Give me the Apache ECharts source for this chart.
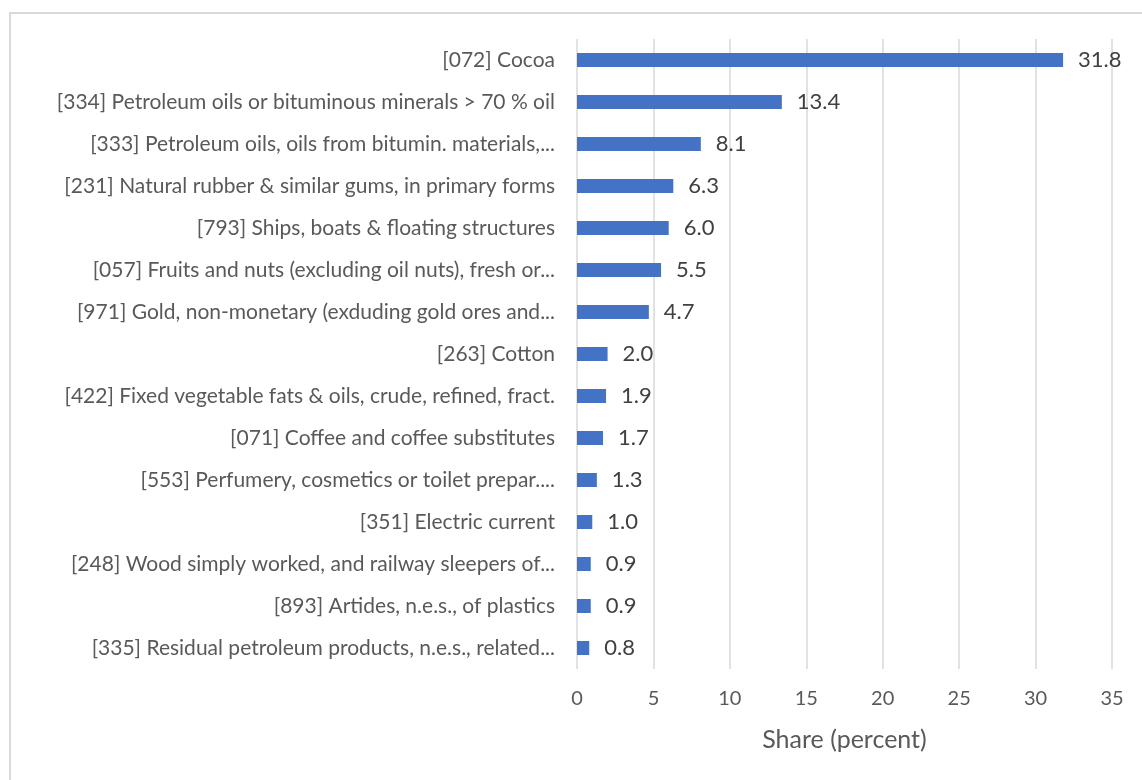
<!DOCTYPE html>
<html>
<head>
<meta charset="utf-8">
<script src="https://cdn.jsdelivr.net/npm/echarts@6/dist/echarts.min.js"></script>
<style>
  html, body { margin: 0; padding: 0; background: #fff; }
  #chart { width: 1142px; height: 780px; }
</style>
</head>
<body>
<div id="chart"></div>
<script>
// Product groups, top to bottom
const categories = [
  '[072] Cocoa',
  '[334] Petroleum oils or bituminous minerals > 70 % oil',
  '[333] Petroleum oils, oils from bitumin. materials,...',
  '[231] Natural rubber & similar gums, in primary forms',
  '[793] Ships, boats & floating structures',
  '[057] Fruits and nuts (excluding oil nuts), fresh or...',
  '[971] Gold, non-monetary (exduding gold ores and...',
  '[263] Cotton',
  '[422] Fixed vegetable fats & oils, crude, refined, fract.',
  '[071] Coffee and coffee substitutes',
  '[553] Perfumery, cosmetics or toilet prepar....',
  '[351] Electric current',
  '[248] Wood simply worked, and railway sleepers of...',
  '[893] Artides, n.e.s., of plastics',
  '[335] Residual petroleum products, n.e.s., related...'
];

// Share of exports, percent
const shares = [31.8, 13.4, 8.1, 6.3, 6.0, 5.5, 4.7, 2.0, 1.9, 1.7, 1.3, 1.0, 0.9, 0.9, 0.8];

const xTicks = { min: 0, max: 35, interval: 5 };
const axisTitle = 'Share (percent)';

const FONT = 'Lato, "Noto Sans", sans-serif';

const chart = echarts.init(document.getElementById('chart'), null, { renderer: 'canvas' });
chart.setOption({
  backgroundColor: '#ffffff',
  animation: false,
  graphic: [{
    type: 'rect',
    shape: { x: 10, y: 13, width: 1300, height: 900 },
    style: { fill: 'none', stroke: '#d9d9d9', lineWidth: 2 },
    silent: true,
    z: -10
  }],
  grid: { left: 577, right: 30, top: 39, bottom: 111, containLabel: false },
  xAxis: {
    type: 'value',
    min: xTicks.min,
    max: xTicks.max,
    interval: xTicks.interval,
    name: axisTitle,
    nameLocation: 'middle',
    nameGap: 58,
    nameTextStyle: { color: '#595959', fontSize: 25, fontFamily: FONT },
    axisLine: { show: false },
    axisTick: { show: false },
    axisLabel: { color: '#595959', fontSize: 20, fontFamily: FONT, margin: 20 },
    splitLine: { show: true, lineStyle: { color: '#d9d9d9', width: 1.5 } }
  },
  yAxis: {
    type: 'category',
    data: categories,
    inverse: true,
    axisLine: { show: false },
    axisTick: { show: false },
    axisLabel: { color: '#595959', fontSize: 21, fontFamily: FONT, margin: 22 }
  },
  series: [{
    type: 'bar',
    data: shares,
    barWidth: 14,
    itemStyle: { color: '#4472C4' },
    label: {
      show: true,
      position: 'right',
      distance: 15,
      color: '#404040',
      fontSize: 22,
      fontFamily: FONT,
      formatter: p => p.value.toFixed(1)
    }
  }]
});
</script>
</body>
</html>
